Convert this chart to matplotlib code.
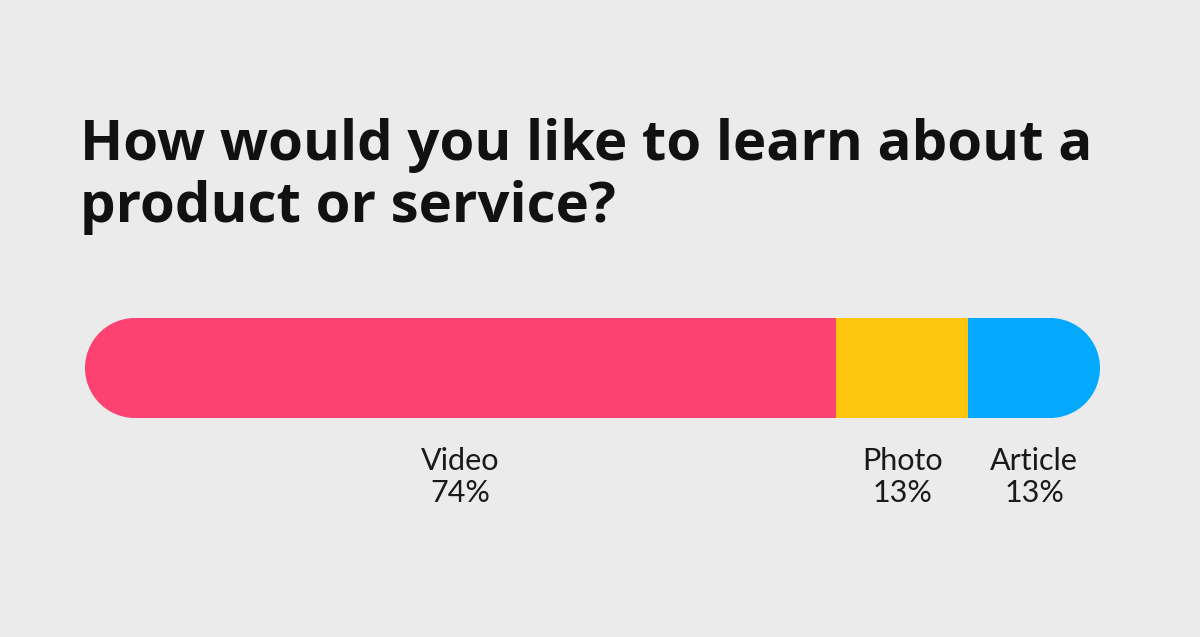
import matplotlib
matplotlib.use("Agg")
import matplotlib.pyplot as plt
from matplotlib.patches import PathPatch
from matplotlib.path import Path
import numpy as np

# Data
title_lines = ["How would you like to learn about a", "product or service?"]
categories = ["Video", "Photo", "Article"]
values = [74, 13, 13]
colors = ["#FD4171", "#FFC610", "#03A9FE"]

BG = "#EBEBEB"
W, H = 1200, 637
fig = plt.figure(figsize=(W / 100, H / 100), dpi=100, facecolor=BG)

# Title
t1 = fig.text(80 / W, 1 - 160 / H, title_lines[0],
              fontsize=42, fontweight="bold", family="Open Sans", color="#111111",
              ha="left", va="baseline")
t2 = fig.text(80 / W, 1 - 222 / H, title_lines[1],
              fontsize=42, fontweight="bold", family="Open Sans", color="#111111",
              ha="left", va="baseline")
r = fig.canvas.get_renderer()
w1 = t1.get_window_extent(r).width
fs = 42 * 1013 / w1
t1.set_fontsize(fs)
t2.set_fontsize(fs)

# Bar axes
x0, x1 = 85, 1100
y_top, y_bot = 318, 418
ax = fig.add_axes([x0 / W, 1 - y_bot / H, (x1 - x0) / W, (y_bot - y_top) / H])
ax.set_xlim(0, sum(values))
ax.set_ylim(0, 1)
ax.axis("off")

# Stadium clip shape (in inches)
rad = (y_bot - y_top) / 200
yc = (H - (y_top + y_bot) / 2) / 100
cl = x0 / 100 + rad
cr = x1 / 100 - rad
arc_r = Path.arc(-90, 90)
arc_l = Path.arc(90, 270)
verts = np.vstack([arc_r.vertices * rad + [cr, yc],
                   arc_l.vertices * rad + [cl, yc],
                   [[cr, yc - rad]]])
codes = np.concatenate([arc_r.codes, arc_l.codes, [Path.CLOSEPOLY]])
codes[len(arc_r.codes)] = Path.LINETO
clip = PathPatch(Path(verts, codes), transform=fig.dpi_scale_trans,
                 facecolor="none", edgecolor="none")

lefts = np.concatenate([[0], np.cumsum(values)[:-1]])
bars = ax.barh([0.5] * len(values), values, left=lefts, height=1.0,
               color=colors, edgecolor="none", linewidth=0)
for b in bars:
    b.set_clip_path(clip)

# Labels under segments
for cat, v, l in zip(categories, values, lefts):
    cx = l + v / 2
    ax.annotate(cat, xy=(cx, 0), xycoords="data", xytext=(0, -52 * 0.72),
                textcoords="offset points", ha="center", va="baseline",
                fontsize=22, family="Lato", color="#1a1a1a")
    ax.annotate(f"{v}%", xy=(cx, 0), xycoords="data", xytext=(0, -84 * 0.72),
                textcoords="offset points", ha="center", va="baseline",
                fontsize=22, family="Lato", color="#1a1a1a")

fig.savefig("out.png", dpi=100, facecolor=BG)
